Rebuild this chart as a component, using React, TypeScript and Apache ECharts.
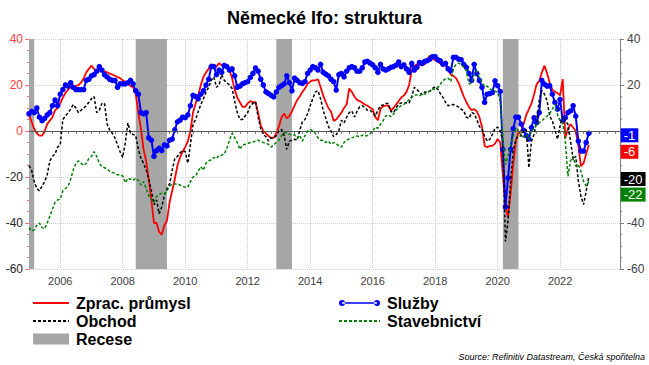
import React, { useEffect, useRef } from 'react';
import * as echarts from 'echarts';

const FONT = '"Liberation Sans", Arial, sans-serif';

// monthly categories Jan 2005 .. Dec 2023
const firstYear = 2005;
const lastYear = 2023;
const categories: string[] = [];
for (let y = firstYear; y <= lastYear; y++) {
  for (let m = 1; m <= 12; m++) categories.push(`${y}-${m < 10 ? '0' + m : m}`);
}

const yMin = -60;
const yMax = 40;
const yStep = 20;
// right-axis tick labels covered by the end-value boxes in the original
const hiddenRightTicks = [0, -20];

// Jan 2005 .. Dec 2022
const manufacturing = [
  7, 4, 1, -1, -2, -2, 0, 3, 4.5, 6, 9, 10,
  12, 14.5, 16.5, 18, 19, 19, 19.5, 20, 21, 23, 25.5, 27,
  28.5, 27, 26, 27.5, 26.5, 26, 25.5, 25, 24.5, 24, 23.5, 23,
  22, 21.5, 20.5, 19.5, 19, 16, 8, 1, -8, -13, -21, -30,
  -40, -40, -44, -45, -41, -39, -31, -26, -21, -15, -11.5, -9,
  -7, -4.5, 0, 8, 12, 15.5, 20, 23.5, 25.5, 27, 29, 28.5,
  28, 29.5, 28.5, 28, 27.5, 26.5, 23, 18, 14.5, 12.5, 10.5, 10.5,
  12, 13, 12.5, 12.5, 8, 2.5, 0, -1, -2.2, -3, -3, -1,
  2, 6, 7.6, 5.5, 6.5, 8.5, 11, 13.5, 15, 17, 18.5, 20.5,
  21.5, 22, 22, 22.5, 19, 15.5, 12.5, 10, 8.5, 4.4, 5, 6.5,
  8, 10, 11.5, 18.5, 17, 15, 13.5, 13, 12.3, 11.5, 11, 10.2,
  9.5, 6, 4.7, 9.5, 10.8, 11, 11, 9, 10, 11.5, 13, 14.6,
  15.5, 17, 20, 26.5, 28.3, 29, 28.8, 28.5, 29, 31, 32.8, 31.5,
  30.8, 30, 29.4, 28.8, 28.5, 26.5, 24.5, 24, 23, 21, 18, 15,
  12.5, 10.5, 9, 9.5, 8.5, 6, 2, -6.5, -7, -6.5, -6.5, -5.5,
  -3.5, -5, -19, -32, -37.5, -27, -14.5, -4.5, -0.7, 0, 3, 7,
  9.5, 12, 16, 20.4, 21.8, 25.5, 28.4, 25, 21, 18, 17, 16.5,
  15.5, 22.5, -3, 1, 3, 1.5, 0, -6.5, -15.3, -14, -10, -6,
];

const services = [
  7.5, 8.5, 8, 10, 6, 4.5, 5.5, 7, 8, 11, 13.5, 11,
  16, 18, 20, 19.5, 21, 19, 18, 18, 18, 18, 22, 22.5,
  24, 24.5, 26, 28, 26.5, 24.5, 23.5, 22.5, 22, 22, 19, 20.5,
  20.5, 20.5, 21, 22, 20.5, 17.5, 16, 8, 7.5, 8, -3, -4,
  -11, -8.5, -7.5, -8.5, -6, -6.5, -4, -3.5, 0.5, 4, 4.7, 6,
  5.8, 7, 11, 15.5, 15, 14, 16, 17.5, 20, 22.5, 28, 28,
  24.5, 26.5, 25.5, 28.5, 28, 26.5, 27, 24, 19, 19.5, 20.5, 21,
  21.5, 23.3, 25, 27.4, 26, 22.5, 20, 17, 16.3, 15.5, 14.8, 17,
  19, 19.7, 20.5, 24, 21, 17.5, 23, 22, 21, 20.7, 21.5, 25,
  26.5, 28, 27.5, 26.5, 29, 25.5, 24.7, 24, 22.5, 21.5, 17.8, 24.5,
  25, 23.5, 26, 27.5, 28, 27.5, 26, 26, 27.5, 30, 30.3, 29.5,
  28.8, 27.5, 25.5, 29, 27, 26.5, 27, 27.7, 28, 28.6, 30, 28,
  28.8, 27, 25.5, 29.4, 26.5, 27.7, 29.8, 29.4, 30.3, 30.6, 31.3, 32.3,
  32.3, 31, 30.5, 29, 29.4, 27, 26.2, 32, 32, 31.3, 31, 29,
  27.7, 25, 22, 29, 25, 22, 19, 12.4, 16, 16.3, 16.7, 21.8,
  19.7, 17.2, -8, -33, -20.4, -8, 1, 6, 6, 3, 0.3, -2,
  -3.5, 1.5, 5.8, 3.6, 8, 22, 20.4, 19.5, 19.7, 16, 12.4, 9.5,
  13.8, 4.4, 5.8, 8, 8.7, 11, 6.5, -4.4, -8.7, -8.7, -5, -1,
];

const trade = [
  -15, -17, -22, -25, -26, -24, -22, -19, -13, -11, -10, -7,
  -6, 5, 6.5, 8, 9.5, 11.5, 10, 8, 9, 10, 11, 12.5,
  14, 15, 8, 9, 12, 12, 3, 0.5, -1, -3, -6, -9,
  -11.5, -5, 3.5, -1, -1.5, -2, -8, -12, -14, -17, -21, -26,
  -32, -30, -36, -33, -28, -25, -23, -17, -12, -11, -9.5, -8.5,
  -9, -14, -6, 3, 5, 8.5, 11.5, 14, 17, 19, 22, 23.5,
  19, 20, 24.5, 22, 21, 20, 18.5, 13, 8, 5, 5, 6.5,
  8, 11, 12, 12.8, 6, 1, -1.5, -2.5, -4.4, -3, -3, -2,
  0, 0.7, -2, -8, -4.4, -4, -3.6, -4, 0.3, 4, 5, 7.5,
  11, 14, 17, 17.5, 14, 9, 5.5, 2, 0, -2.5, -1.5, 0,
  4.7, 3.5, 6, 8, 8.7, 6.1, 8.5, 10.5, 11, 10.3, 9, 9,
  8, 6.5, 9, 11, 11.3, 12, 12, 8.5, 8, 10, 11.8, 12.2,
  12, 12.3, 12.2, 15, 19, 18, 17, 15.8, 17, 17, 17.3, 18.5,
  19.2, 18.2, 16.2, 14.6, 12.4, 11, 11.4, 11.5, 11, 10.4, 9.5, 8.7,
  6, 5.5, 8, 7.5, 5, 2, 0.7, -2.2, -4.4, -3.6, -1.5, 1.2,
  1.7, 0, -4.4, -48, -39, -21.8, -8.7, -3.6, -2.2, -2.2, 0, 0.7,
  -16, -4.4, -1.5, 4.4, 13.4, 17.5, 16, 13, 6.5, 4.4, 0.7, -3.6,
  2.2, 6.5, 4.5, 2.9, -4.4, -12.4, -11, -21.8, -28.4, -32, -26.2, -20,
];

const construction = [
  -42, -43.5, -43, -41, -40, -42, -42.5, -40, -37, -34, -31, -30,
  -29.5, -26, -25, -24, -21, -17, -14, -13, -14, -15, -14, -12,
  -11, -9, -11, -14, -15.5, -16, -16.5, -17.5, -18, -18.5, -19, -19,
  -19.5, -22.5, -20.5, -21, -21.5, -20.5, -21.5, -23.5, -22, -25, -28, -30,
  -31, -28.5, -27.5, -27, -27.5, -26, -24, -23, -23, -23, -23.5, -24,
  -24.5, -24.5, -22, -20, -19.5, -17.5, -15.5, -17, -14, -13, -12.5, -11.5,
  -12, -10.5, -10.5, -10, -7.5, -4, -1, -3, -5, -8, -6, -5.8,
  -5.5, -5, -4.8, -4.4, -4, -4.5, -5, -5.3, -5.8, -7, -6, -5,
  -4, -2, -0.8, -0.7, -1.5, -1.5, -1.7, -3, -1.8, -4.4, -2, 0,
  0.7, 0, -1, -3, -4, -4, -5, -4.4, -5.8, -5, -5.5, -6.5,
  -7, -5, -4, -3.4, -3, -2.5, -2.2, -2.6, -1.8, -2.2, -2, -1.2,
  0, 1.7, 1.2, 2.9, 4.4, 6.5, 7, 6.2, 7.3, 9, 10.2, 11,
  11.6, 12.4, 13.6, 14.6, 15.7, 15.7, 15.3, 16.3, 16, 16.7, 17.5, 18.2,
  18.3, 18.9, 20.4, 22, 22.6, 23, 21.5, 27, 29, 29.5, 29, 27.7,
  26.2, 20.4, 21, 24.7, 26, 23, 21, 19.5, 19.5, 18.2, 18, 17.5,
  16.7, 13, -3, -14.6, -11, -6, -2.2, 1.2, 0.3, -2.2, -2.6, -1.5,
  -3.6, 0, 1, 3.2, 3.6, 4.4, 5.5, 6.5, 7.6, 9.5, 11.6, 7,
  4.4, 3.6, -4.4, -19.7, -13, -11, -15.3, -14.6, -17.5, -21.8, -24, -22,
];

const recessions: [string, string][] = [
  ['2005-01', '2005-03'],
  ['2008-06', '2009-06'],
  ['2012-12', '2013-06'],
  ['2020-03', '2020-09'],
];

const isYearTick = (i: number) => i >= 12 && (i - 12) % 24 === 0;

function endLabel(bg: string, dy: number) {
  return {
    show: true,
    formatter: (p: any) => String(Math.round(Number(p.value))),
    color: '#ffffff',
    backgroundColor: bg,
    padding: [1, 3, 0, 3],
    fontSize: 13,
    fontFamily: FONT,
    distance: 0,
    offset: [32, dy],
  };
}

const legendText = { fontSize: 16, fontWeight: 'bold', color: '#000', fontFamily: FONT, padding: [0, 0, 0, 2] };
const noSymbol = { opacity: 0 };
const dotLineIcon =
  'path://M0,3.5a3,3 0 1,0 6,0a3,3 0 1,0 -6,0z M35,3.5a3,3 0 1,0 6,0a3,3 0 1,0 -6,0z M3,2.7h35v1.6h-35z';

export default function App() {
  const ref = useRef<HTMLDivElement>(null);
  useEffect(() => {
    if (!ref.current) return;
    const chart = echarts.init(ref.current, undefined, { renderer: 'svg' });
    chart.setOption({
      animation: false,
      backgroundColor: '#ffffff',
      textStyle: { fontFamily: FONT },
      title: {
        text: 'Německé Ifo: struktura',
        left: 'center',
        top: 4,
        textStyle: { fontSize: 18, fontWeight: 'bold', color: '#000', fontFamily: FONT },
      },
      grid: { left: 29, right: 29, top: 39, bottom: 96, containLabel: false },
      legend: [
        {
          left: 32,
          top: 295,
          padding: 0,
          orient: 'vertical',
          itemWidth: 36,
          itemHeight: 11,
          itemGap: 2,
          selectedMode: false,
          data: [
            { name: 'Zprac. průmysl', itemStyle: noSymbol },
            { name: 'Obchod', itemStyle: noSymbol },
            { name: 'Recese', icon: 'rect' },
          ],
          textStyle: legendText,
        },
        {
          left: 338,
          top: 295,
          padding: 0,
          orient: 'vertical',
          itemWidth: 41,
          itemHeight: 7,
          itemGap: 2,
          selectedMode: false,
          data: [
            { name: 'Služby', icon: dotLineIcon },
            { name: 'Stavebnictví', itemStyle: noSymbol },
          ],
          textStyle: legendText,
        },
      ],
      xAxis: {
        type: 'category',
        data: categories,
        boundaryGap: false,
        axisLine: { show: true, lineStyle: { color: '#808080' } },
        axisTick: { show: true, interval: (i: number) => i % 3 === 0, length: 3, lineStyle: { color: '#808080' } },
        axisLabel: {
          interval: (i: number) => isYearTick(i),
          formatter: (v: string) => v.slice(0, 4),
          color: '#404040',
          fontSize: 11,
          fontFamily: FONT,
          margin: 6,
        },
        splitLine: {
          show: true,
          interval: (i: number) => isYearTick(i),
          lineStyle: { color: '#cfcfcf', type: 'dotted' },
        },
      },
      yAxis: [
        {
          type: 'value',
          min: yMin,
          max: yMax,
          interval: yStep,
          position: 'left',
          axisLine: { show: true, lineStyle: { color: '#ff7070' } },
          axisTick: { show: true, length: 4, lineStyle: { color: '#ff7070' } },
          minorTick: { show: true, splitNumber: 4, length: 2, lineStyle: { color: '#ff7070' } },
          axisLabel: {
            color: (v: any) => (Number(v) >= 0 ? '#ff3b3b' : '#262626'),
            fontSize: 12,
            fontFamily: FONT,
            margin: 6,
          },
          splitLine: { show: true, lineStyle: { color: '#cfcfcf', type: 'dotted' } },
        },
        {
          type: 'value',
          min: yMin,
          max: yMax,
          interval: yStep,
          position: 'right',
          axisLine: { show: true, lineStyle: { color: '#808080' } },
          axisTick: { show: true, length: 4, lineStyle: { color: '#808080' } },
          minorTick: { show: true, splitNumber: 4, length: 2, lineStyle: { color: '#808080' } },
          axisLabel: {
            color: '#404040',
            fontSize: 12,
            fontFamily: FONT,
            margin: 7,
            formatter: (v: number) => (hiddenRightTicks.includes(Number(v)) ? '' : String(v)),
          },
          splitLine: { show: false },
        },
      ],
      series: [
        {
          name: 'Recese',
          type: 'line',
          data: manufacturing.map(() => null),
          color: '#a6a6a6',
          symbol: 'none',
          silent: true,
          z: 1,
          markArea: {
            silent: true,
            itemStyle: { color: '#a6a6a6', opacity: 1 },
            data: recessions.map(([a, b]) => [{ xAxis: a }, { xAxis: b }]),
          },
          markLine: {
            silent: true,
            symbol: 'none',
            label: { show: false },
            lineStyle: { color: '#595959', width: 1, type: 'solid' },
            data: [{ yAxis: 0 }],
          },
        },
        {
          name: 'Zprac. průmysl',
          type: 'line',
          data: manufacturing,
          color: '#ff0000',
          lineStyle: { width: 1.8, color: '#ff0000' },
          symbol: 'none',
          z: 3,
          endLabel: endLabel('#ff0000', 7),
        },
        {
          name: 'Služby',
          type: 'line',
          data: services,
          color: '#0000ff',
          lineStyle: { width: 2, color: '#0000ff' },
          symbol: 'circle',
          symbolSize: 5.5,
          showAllSymbol: true,
          itemStyle: { color: '#0000ff' },
          z: 4,
          endLabel: endLabel('#0000ff', 2),
        },
        {
          name: 'Obchod',
          type: 'line',
          data: trade,
          color: '#000000',
          lineStyle: { width: 1.5, type: [3, 2], color: '#000000' },
          symbol: 'none',
          z: 5,
          endLabel: endLabel('#000000', 2),
        },
        {
          name: 'Stavebnictví',
          type: 'line',
          data: construction,
          color: '#008000',
          lineStyle: { width: 1.5, type: [3, 2], color: '#008000' },
          symbol: 'none',
          z: 6,
          endLabel: endLabel('#008000', 13),
        },
      ],
      graphic: [
        {
          type: 'text',
          right: 4,
          top: 352,
          style: {
            text: 'Source: Refinitiv Datastream, Česká spořitelna',
            font: 'italic 9px "Liberation Sans", Arial, sans-serif',
            fill: '#000',
          },
        },
      ],
    });
    return () => chart.dispose();
  }, []);
  return (
    <div
      ref={ref}
      style={{ position: 'fixed', left: 0, top: 0, width: 649, height: 365, background: '#fff' }}
    />
  );
}
